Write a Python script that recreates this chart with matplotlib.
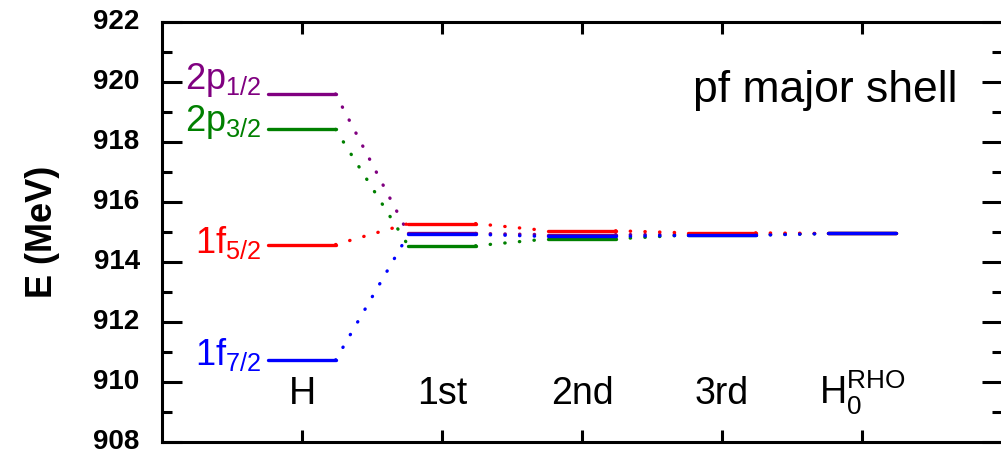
import matplotlib
matplotlib.use("Agg")
import matplotlib.pyplot as plt

plt.rcParams["font.family"] = ["Liberation Sans", "DejaVu Sans"]
plt.rcParams["mathtext.fontset"] = "custom"
plt.rcParams["mathtext.rm"] = "Liberation Sans"
plt.rcParams["mathtext.it"] = "Liberation Sans:italic"
plt.rcParams["mathtext.bf"] = "Liberation Sans:bold"

# stages of the calculation (x positions 1..5)
stages = ["H", "1st", "2nd", "3rd", r"H$_\mathregular{0}^\mathregular{RHO}$"]

# single-particle levels (MeV) at each stage
levels = {
    "2p12": [919.60, 914.95, 914.91, 914.92, 914.95],
    "2p32": [918.42, 914.54, 914.77, 914.90, 914.95],
    "1f52": [914.58, 915.28, 915.04, 914.97, 914.95],
    "1f72": [910.73, 914.92, 914.85, 914.89, 914.95],
}
level_names = {
    "2p12": r"2p$_\mathregular{1/2}$",
    "2p32": r"2p$_\mathregular{3/2}$",
    "1f52": r"1f$_\mathregular{5/2}$",
    "1f72": r"1f$_\mathregular{7/2}$",
}
colors = {"2p12": "#800080", "2p32": "#008000", "1f52": "#ff0000", "1f72": "#0000ff"}
# baseline offsets of the level names relative to their level
name_dy = {"2p12": 0.18, "2p32": -0.06, "1f52": -0.29, "1f72": -0.15}

half = 0.24

fig = plt.figure(figsize=(10.01, 4.55), dpi=100)
ax = fig.add_axes([0.1618, 0.0286, 0.8392, 0.9231])

xs = list(range(1, len(stages) + 1))
for z, key in enumerate(["2p12", "2p32", "1f52", "1f72"]):
    ys = levels[key]
    c = colors[key]
    for x, y in zip(xs, ys):
        ax.plot([x - half, x + half], [y, y], color=c, lw=2.4,
                solid_capstyle="round", zorder=3 + z)
    for i in range(len(xs) - 1):
        ax.plot([xs[i] + half, xs[i + 1] - half], [ys[i], ys[i + 1]],
                color=c, lw=2.4, linestyle=(0, (0.1, 4.3)),
                dash_capstyle="round", zorder=3 + z)
    ax.text(0.707, ys[0] + name_dy[key], level_names[key], color=c,
            fontsize=26, ha="right", va="baseline")

for x, lab in zip(xs, stages):
    ax.text(x, 909.25, lab, fontsize=27, ha="center", va="baseline")

ax.text(5.68, 919.32, "pf major shell", fontsize=32, ha="right",
        va="baseline")

ax.set_xlim(0, 6)
ax.set_ylim(908, 922)
ax.set_xticks(xs)
ax.set_xticklabels([])
ax.set_yticks(range(908, 923, 2))
ax.set_yticks(range(909, 922, 2), minor=True)
ax.tick_params(axis="x", which="major", direction="in", top=True,
               length=8.6, width=2.2)
ax.tick_params(axis="y", which="major", direction="in", right=True,
               length=14.4, width=2.2, labelsize=20, pad=16)
ax.tick_params(axis="y", which="minor", direction="in", right=True,
               length=7.2, width=2.2)
for lab in ax.get_yticklabels():
    lab.set_fontweight("bold")
    lab.set_verticalalignment("center")
for s in ax.spines.values():
    s.set_linewidth(2.2)

ax.set_ylabel("E (MeV)", fontsize=26, fontweight="bold", labelpad=24)

fig.savefig("out.png", dpi=100)
